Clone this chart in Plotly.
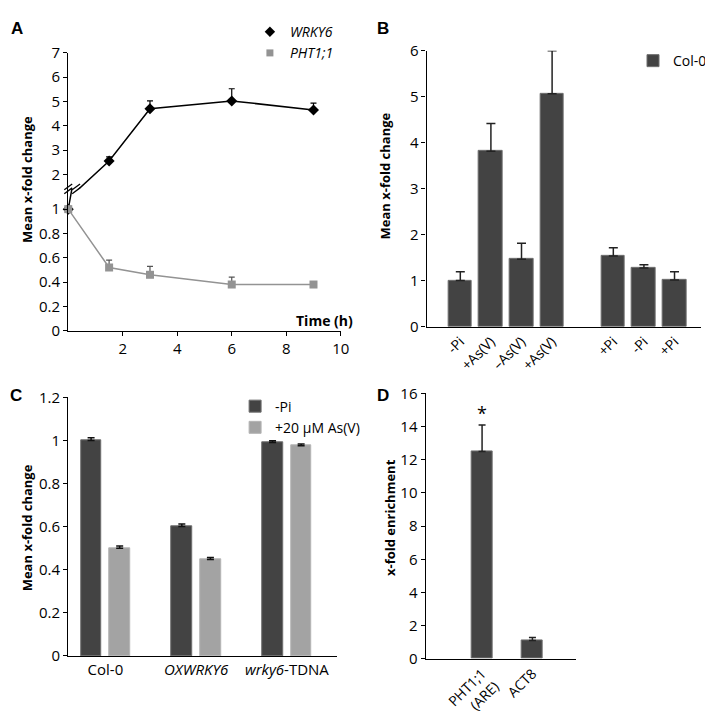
import plotly.graph_objects as go

W, H = 713, 715
FONT = "Open Sans"
DARK = "#434343"
LIGHT = "#a3a3a3"
GREY = "#939393"

# ---------------- Panel A data ----------------
time_h = [0, 1.5, 3, 6, 9]
wrky6 = [1.0, 2.55, 4.7, 5.02, 4.65]
wrky6_err = [0.0, 0.17, 0.32, 0.5, 0.28]
pht1 = [1.0, 0.52, 0.46, 0.38, 0.38]
pht1_err = [0.02, 0.06, 0.07, 0.06, 0.02]
a_low_ticks = [0, 0.2, 0.4, 0.6, 0.8, 1]
a_high_ticks = [2, 3, 4, 5, 6, 7]
a_x_ticks = [2, 4, 6, 8, 10]

# ---------------- Panel B data ----------------
b_labels_1 = ["-Pi", "+As(V)", "–As(V)", "+As(V)"]
b_values_1 = [1.01, 3.82, 1.47, 5.07]
b_err_1 = [0.19, 0.60, 0.35, 0.93]
b_labels_2 = ["+Pi", "-Pi", "+Pi"]
b_values_2 = [1.54, 1.28, 1.02]
b_err_2 = [0.18, 0.07, 0.18]

# ---------------- Panel C data ----------------
c_lines = ["Col-0", "<i>OXWRKY6</i>", "<i>wrky6</i>-TDNA"]
c_minus_pi = [1.0, 0.60, 0.99]
c_minus_pi_err = [0.012, 0.012, 0.008]
c_arsenate = [0.50, 0.447, 0.975]
c_arsenate_err = [0.010, 0.010, 0.008]
c_ticks = [0, 0.2, 0.4, 0.6, 0.8, 1, 1.2]

# ---------------- Panel D data ----------------
d_labels = ["PHT1;1<br>(ARE)", "ACT8"]
d_values = [12.5, 1.1]
d_err = [1.6, 0.18]


def px(x):
    return x / W


def py(y):
    return 1 - y / H


def fmt(v):
    return f"{v:g}"


def ax(**kw):
    d = dict(showline=True, linecolor="black", linewidth=1.3, ticks="outside",
             ticklen=4, tickwidth=1.3, tickcolor="black", showgrid=False,
             zeroline=False, fixedrange=True,
             tickfont=dict(size=15, color="black", family=FONT))
    d.update(kw)
    return d


fig = go.Figure()

# ---- Panel A (broken y axis: y = lower part, y2 = upper part) ----
for yref, show_err in (("y", False), ("y2", True)):
    fig.add_trace(go.Scatter(
        x=time_h, y=wrky6, xaxis="x", yaxis=yref, mode="lines+markers",
        line=dict(color="black", width=1.5),
        marker=dict(symbol="diamond", size=8.5, color="black"),
        error_y=dict(type="data", array=wrky6_err, arrayminus=[0] * len(wrky6_err),
                     symmetric=False, color="black", thickness=1.2, width=3,
                     visible=show_err),
        cliponaxis=False, showlegend=False, name="WRKY6"))
fig.add_trace(go.Scatter(
    x=time_h, y=pht1, xaxis="x", yaxis="y", mode="lines+markers",
    line=dict(color=GREY, width=1.5),
    marker=dict(symbol="square", size=8, color=GREY),
    error_y=dict(type="data", array=pht1_err, arrayminus=[0] * len(pht1_err),
                 symmetric=False, color="#555555", thickness=1.2, width=3),
    cliponaxis=False, showlegend=False, name="PHT1;1"))
# legend entries (marker only)
fig.add_trace(go.Scatter(x=[None], y=[None], xaxis="x", yaxis="y", mode="markers",
                         marker=dict(symbol="diamond", size=8, color="black"),
                         name="<i>WRKY6</i>", legend="legend"))
fig.add_trace(go.Scatter(x=[None], y=[None], xaxis="x", yaxis="y", mode="markers",
                         marker=dict(symbol="square", size=7, color=GREY),
                         name="<i>PHT1;1</i>", legend="legend"))

# ---- Panel B ----
b_labels = b_labels_1 + b_labels_2
b_values = b_values_1 + b_values_2
b_err = b_err_1 + b_err_2
b_x = list(range(len(b_labels_1))) + [len(b_labels_1) + 1 + i for i in range(len(b_labels_2))]
fig.add_trace(go.Bar(
    x=b_x, y=b_values, xaxis="x3", yaxis="y3", width=0.77,
    marker=dict(color=DARK, line=dict(color="#6f6f6f", width=1)),
    error_y=dict(type="data", array=b_err, arrayminus=[0] * len(b_err), symmetric=False,
                 color="#222222", thickness=1.5, width=4.5),
    name="Col-0", legend="legend2"))

# ---- Panel C ----
c_x = list(range(len(c_lines)))
fig.add_trace(go.Bar(
    x=c_x, y=c_minus_pi, xaxis="x4", yaxis="y4", width=0.228, offset=-0.272,
    marker=dict(color=DARK, line=dict(color="#6f6f6f", width=1)),
    error_y=dict(type="data", array=c_minus_pi_err, arrayminus=[0] * 3, symmetric=False,
                 color="#111111", thickness=1.5, width=3.5),
    name="-Pi", legend="legend3"))
fig.add_trace(go.Bar(
    x=c_x, y=c_arsenate, xaxis="x4", yaxis="y4", width=0.228, offset=0.043,
    marker=dict(color=LIGHT, line=dict(color="#b5b5b5", width=1)),
    error_y=dict(type="data", array=c_arsenate_err, arrayminus=[0] * 3, symmetric=False,
                 color="#111111", thickness=1.5, width=3.5),
    name="+20 µM As(V)", legend="legend3"))

# ---- Panel D ----
d_x = list(range(len(d_labels)))
fig.add_trace(go.Bar(
    x=d_x, y=d_values, xaxis="x5", yaxis="y5", width=0.41,
    marker=dict(color=DARK, line=dict(color="#6f6f6f", width=1)),
    error_y=dict(type="data", array=d_err, arrayminus=[0] * 2, symmetric=False,
                 color="#222222", thickness=1.5, width=3.5),
    showlegend=False, name="x-fold enrichment"))

legend_common = dict(yanchor="top", bgcolor="rgba(0,0,0,0)",
                     borderwidth=0, tracegroupgap=0, itemwidth=30,
                     font=dict(size=14, family=FONT, color="black"))

fig.update_layout(
    width=W, height=H, margin=dict(l=0, r=0, t=0, b=0),
    paper_bgcolor="white", plot_bgcolor="white",
    font=dict(family=FONT, color="black"),
    bargap=0,
    # Panel A
    xaxis=ax(domain=[px(61), px(337)], range=[0, 10], anchor="y",
             tickvals=a_x_ticks, ticktext=[fmt(v) for v in a_x_ticks]),
    yaxis=ax(domain=[py(323), py(176)], range=[0, 1.167], anchor="x",
             tickvals=a_low_ticks, ticktext=[fmt(v) for v in a_low_ticks]),
    yaxis2=ax(domain=[py(176), py(35)], range=[1.405, 7], anchor="x",
              tickvals=a_high_ticks, ticktext=[fmt(v) for v in a_high_ticks]),
    # Panel B
    xaxis3=ax(domain=[px(424), px(702)], range=[-1.1, 7.87], anchor="y3",
              tickvals=b_x, ticktext=b_labels, tickangle=-45, ticks="",
              tickfont=dict(size=14, color="black", family=FONT)),
    yaxis3=ax(domain=[py(319), py(33)], range=[0, 6], anchor="x3", dtick=1),
    # Panel C
    xaxis4=ax(domain=[px(61), px(333)], range=[-0.41, 2.55], anchor="y4",
              tickvals=c_x, ticktext=c_lines, ticks=""),
    yaxis4=ax(domain=[py(660), py(392)], range=[0, 1.2], anchor="x4",
              tickvals=c_ticks, ticktext=[fmt(v) for v in c_ticks]),
    # Panel D
    xaxis5=ax(domain=[px(423), px(575)], range=[-1.12, 1.86], anchor="y5",
              tickvals=d_x, ticktext=d_labels, tickangle=-45, ticks="",
              tickfont=dict(size=14, color="black", family=FONT)),
    yaxis5=ax(domain=[py(663), py(388)], range=[0, 16], anchor="x5", dtick=2),
    legend=dict(x=px(245), y=py(-3), xanchor="left", **legend_common),
    legend2=dict(x=1.0, y=py(27), xanchor="right", **legend_common),
    legend3=dict(x=px(230), y=py(385), xanchor="left", **legend_common),
)

# axis titles and panel letters
ann = []
title_font = dict(size=13, family=FONT, color="black", weight="bold")
for (x, y, t) in [(19, 166, "Mean x-fold change"), (382, 163, "Mean x-fold change"),
                  (19, 527, "Mean x-fold change"), (387, 517, "x-fold enrichment")]:
    ann.append(dict(x=px(x), y=py(y), xref="paper", yref="paper", text=t, textangle=-90,
                    showarrow=False, font=title_font, xanchor="center", yanchor="middle"))
ann.append(dict(x=px(321), y=py(312), xref="paper", yref="paper", text="Time (h)",
                showarrow=False, font=dict(size=14, family=FONT, color="black", weight="bold"),
                xanchor="center", yanchor="middle"))
letter_font = dict(size=17, family="Liberation Sans", color="black", weight="bold")
for (x, y, t) in [(9, 10, "A"), (380, 10, "B"), (8, 390, "C"), (380, 390, "D")]:
    ann.append(dict(x=px(x), y=py(y), xref="paper", yref="paper", text=t,
                    showarrow=False, font=letter_font, xanchor="center", yanchor="middle"))
ann.append(dict(x=d_x[0], y=d_values[0] + d_err[0], xref="x5", yref="y5", text="*",
                showarrow=False, yanchor="bottom", yshift=-2,
                font=dict(size=18, family=FONT, color="black")))
fig.update_layout(annotations=ann)

# break marks on the broken axis of panel A
def seg(x0, y0, x1, y1):
    return dict(type="line", xref="paper", yref="paper", x0=px(x0), y0=py(y0),
                x1=px(x1), y1=py(y1), line=dict(color="black", width=1.3))

shapes = []
for cx, cy in [(61, 176), (69, 176)]:
    shapes.append(seg(cx - 4, cy + 5, cx + 4, cy - 1))
    shapes.append(seg(cx - 4, cy + 1, cx + 4, cy - 5))
fig.update_layout(shapes=shapes)

fig.write_html("out.html")
